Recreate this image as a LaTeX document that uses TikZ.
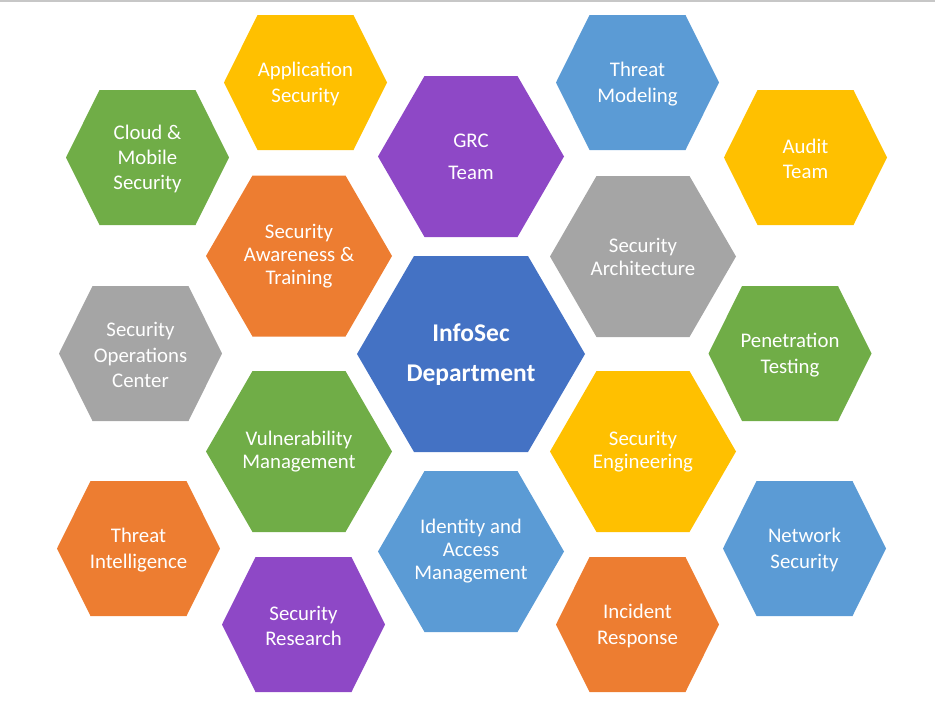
\documentclass[tikz,border=0pt]{standalone}
\usepackage{fontspec}
\setmainfont{Carlito}
\usepackage{xcolor}
\usepackage{tikz}
\usetikzlibrary{calc}

\definecolor{hexgold}{HTML}{FFC000}
\definecolor{hexblue}{HTML}{5B9BD5}
\definecolor{hexgreen}{HTML}{70AD47}
\definecolor{hexpurple}{HTML}{8E48C6}
\definecolor{hexorange}{HTML}{ED7D31}
\definecolor{hexgray}{HTML}{A5A5A5}
\definecolor{hexnavy}{HTML}{4472C4}

% small hexagon: colour, centre x, centre y
\newcommand{\smallhex}[3]{\fill[#1] ({#2-81.5},#3) -- ({#2-48},{#3-67.5}) -- ({#2+48},{#3-67.5}) -- ({#2+81.5},#3) -- ({#2+48},{#3+67.5}) -- ({#2-48},{#3+67.5}) -- cycle;}
% big hexagon: colour, centre x, centre y
\newcommand{\bighex}[3]{\fill[#1] ({#2-93},#3) -- ({#2-46.5},{#3-80.5}) -- ({#2+46.5},{#3-80.5}) -- ({#2+93},#3) -- ({#2+46.5},{#3+80.5}) -- ({#2-46.5},{#3+80.5}) -- cycle;}

\tikzset{
  hexlabel/.style={text=white, align=center, inner sep=0pt, yshift=-1.5pt, font=\fontsize{20.8}{25.4}\selectfont},
  biglabel/.style={hexlabel, font=\fontsize{20.8}{23}\selectfont}
}

\begin{document}
\begin{tikzpicture}[x=1pt,y=-1pt]
                \useasboundingbox (0,0) rectangle (935,702);
                \draw[black!22,line width=1.5pt] (0,0.75)--(935,0.75);

                \smallhex{hexgold}{305.5}{82.5}
                \smallhex{hexblue}{637.5}{82.5}
                \smallhex{hexgreen}{147.5}{157.5}
                \smallhex{hexgold}{805.5}{157.5}
                \smallhex{hexgray}{140.5}{353.5}
                \smallhex{hexgreen}{790}{353.5}
                \smallhex{hexorange}{138.5}{548.5}
                \smallhex{hexblue}{804.5}{548.5}
                \smallhex{hexpurple}{303.5}{624.5}
                \smallhex{hexorange}{637.5}{624.5}

                \bighex{hexpurple}{471}{156.5}
                \bighex{hexorange}{299}{256}
                \bighex{hexgray}{643}{256.5}
                \bighex{hexgreen}{299}{451.5}
                \bighex{hexgold}{643}{451.5}
                \bighex{hexblue}{471}{551.5}

                \fill[hexnavy] (357,354) -- (414,256) -- (528,256) -- (585,354) -- (528,452) -- (414,452) -- cycle;

                \node[hexlabel] (appsec) at (305.5,82.5) {Application\\Security};
                \node[hexlabel] (threatmod) at (637.5,82.5) {Threat\\Modeling};
                \node[hexlabel] (cloud) at (147.5,157.5) {Cloud \&\\Mobile\\Security};
                \node[hexlabel] (audit) at (805.5,157.5) {Audit\\Team};
                \node[hexlabel] (soc) at (140.5,353.5) {Security\\Operations\\Center};
                \node[hexlabel] (pentest) at (790,353.5) {Penetration\\Testing};
                \node[hexlabel] (threatintel) at (138.5,548.5) {Threat\\Intelligence};
                \node[hexlabel] (netsec) at (804.5,548.5) {Network\\Security};
                \node[hexlabel] (research) at (303.5,624.5) {Security\\Research};
                \node[hexlabel] (incident) at (637.5,624.5) {Incident\\Response};

                \node[biglabel] (grc) at (471,155) {GRC\\[9pt]Team};
                \node[biglabel] (awareness) at (299,254.5) {Security\\Awareness \&\\Training};
                \node[biglabel] (architecture) at (643,255) {Security\\Architecture};
                \node[biglabel] (vulnmgmt) at (299,450) {Vulnerability\\Management};
                \node[biglabel] (engineering) at (643,450) {Security\\Engineering};
                \node[biglabel] (iam) at (471,550) {Identity and\\Access\\Management};

                \node[hexlabel, font=\bfseries\fontsize{25.5}{31}\selectfont] (infosec) at (471,353) {InfoSec\\[9pt]Department};
            \end{tikzpicture}
\end{document}
